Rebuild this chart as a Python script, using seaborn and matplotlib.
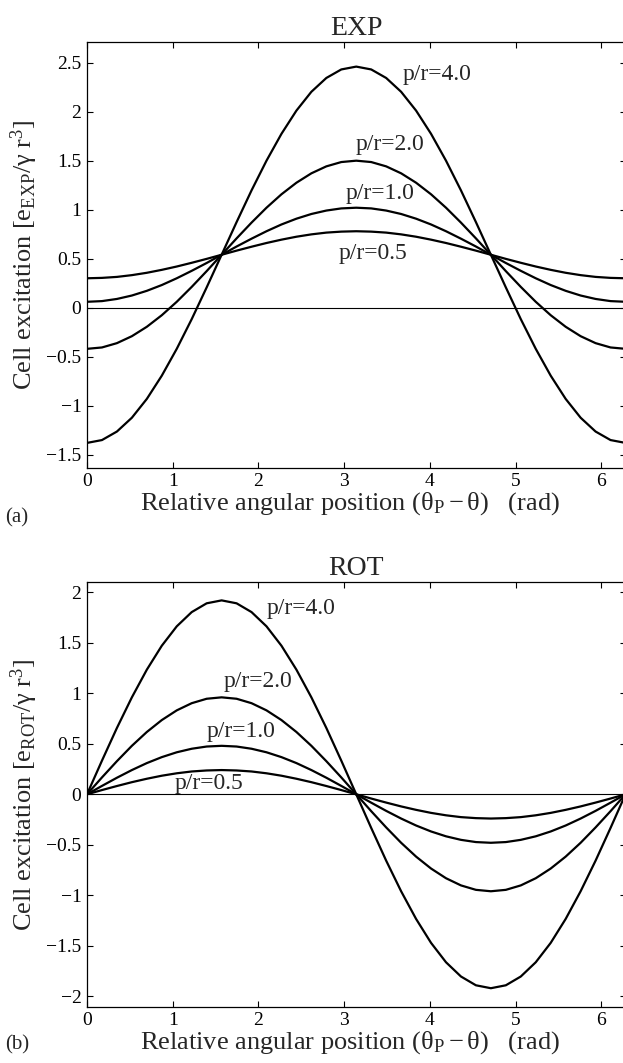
import numpy as np
import pandas as pd
import matplotlib
matplotlib.use("Agg")
import matplotlib.pyplot as plt
from matplotlib.ticker import FuncFormatter
import seaborn as sns

# ---- data (angle in rad) ----
theta = [0.0000, 0.1745, 0.3491, 0.5236, 0.6981, 0.8727, 1.0472, 1.2217, 1.3963,
         1.5708, 1.7453, 1.9199, 2.0944, 2.2689, 2.4435, 2.6180, 2.7925, 2.9671,
         3.1416, 3.3161, 3.4907, 3.6652, 3.8397, 4.0143, 4.1888, 4.3633, 4.5379,
         4.7124, 4.8869, 5.0615, 5.2360, 5.4105, 5.5851, 5.7596, 5.9341, 6.1087,
         6.2832]

ratios = ["p/r=0.5", "p/r=1.0", "p/r=2.0", "p/r=4.0"]

exp_05 = [0.300, 0.304, 0.314, 0.332, 0.356, 0.386, 0.420, 0.458, 0.498, 0.540,
          0.582, 0.622, 0.660, 0.694, 0.724, 0.748, 0.766, 0.776, 0.780,
          0.776, 0.766, 0.748, 0.724, 0.694, 0.660, 0.622, 0.582, 0.540,
          0.498, 0.458, 0.420, 0.386, 0.356, 0.332, 0.314, 0.304, 0.300]
exp_10 = [0.060, 0.067, 0.089, 0.124, 0.172, 0.231, 0.300, 0.376, 0.456, 0.540,
          0.624, 0.704, 0.780, 0.849, 0.908, 0.956, 0.991, 1.013, 1.020,
          1.013, 0.991, 0.956, 0.908, 0.849, 0.780, 0.704, 0.624, 0.540,
          0.456, 0.376, 0.300, 0.231, 0.172, 0.124, 0.089, 0.067, 0.060]
exp_20 = [-0.420, -0.406, -0.362, -0.291, -0.195, -0.077, 0.060, 0.212, 0.373, 0.540,
          0.707, 0.868, 1.020, 1.157, 1.275, 1.371, 1.442, 1.486, 1.500,
          1.486, 1.442, 1.371, 1.275, 1.157, 1.020, 0.868, 0.707, 0.540,
          0.373, 0.212, 0.060, -0.077, -0.195, -0.291, -0.362, -0.406, -0.420]
exp_40 = [-1.380, -1.351, -1.264, -1.123, -0.931, -0.694, -0.420, -0.117, 0.207, 0.540,
          0.873, 1.197, 1.500, 1.774, 2.011, 2.203, 2.344, 2.431, 2.460,
          2.431, 2.344, 2.203, 2.011, 1.774, 1.500, 1.197, 0.873, 0.540,
          0.207, -0.117, -0.420, -0.694, -0.931, -1.123, -1.264, -1.351, -1.380]

rot_05 = [0.000, 0.042, 0.082, 0.120, 0.154, 0.184, 0.208, 0.226, 0.236, 0.240,
          0.236, 0.226, 0.208, 0.184, 0.154, 0.120, 0.082, 0.042, 0.000,
          -0.042, -0.082, -0.120, -0.154, -0.184, -0.208, -0.226, -0.236, -0.240,
          -0.236, -0.226, -0.208, -0.184, -0.154, -0.120, -0.082, -0.042, 0.000]
rot_10 = [0.000, 0.083, 0.164, 0.240, 0.309, 0.368, 0.416, 0.451, 0.473, 0.480,
          0.473, 0.451, 0.416, 0.368, 0.309, 0.240, 0.164, 0.083, 0.000,
          -0.083, -0.164, -0.240, -0.309, -0.368, -0.416, -0.451, -0.473, -0.480,
          -0.473, -0.451, -0.416, -0.368, -0.309, -0.240, -0.164, -0.083, 0.000]
rot_20 = [0.000, 0.167, 0.328, 0.480, 0.617, 0.735, 0.831, 0.902, 0.946, 0.960,
          0.946, 0.902, 0.831, 0.735, 0.617, 0.480, 0.328, 0.167, 0.000,
          -0.167, -0.328, -0.480, -0.617, -0.735, -0.831, -0.902, -0.946, -0.960,
          -0.946, -0.902, -0.831, -0.735, -0.617, -0.480, -0.328, -0.167, 0.000]
rot_40 = [0.000, 0.333, 0.657, 0.960, 1.234, 1.471, 1.663, 1.804, 1.891, 1.920,
          1.891, 1.804, 1.663, 1.471, 1.234, 0.960, 0.657, 0.333, 0.000,
          -0.333, -0.657, -0.960, -1.234, -1.471, -1.663, -1.804, -1.891, -1.920,
          -1.891, -1.804, -1.663, -1.471, -1.234, -0.960, -0.657, -0.333, 0.000]

x_ticks = [0, 1, 2, 3, 4, 5, 6]
exp_yticks = [-1.5, -1, -0.5, 0, 0.5, 1, 1.5, 2, 2.5]
rot_yticks = [-2, -1.5, -1, -0.5, 0, 0.5, 1, 1.5, 2]

# curve-label anchor positions (data coords)
exp_label_pos = {"p/r=4.0": (3.68, 2.38), "p/r=2.0": (3.13, 1.66),
                 "p/r=1.0": (3.02, 1.17), "p/r=0.5": (2.94, 0.556)}
rot_label_pos = {"p/r=4.0": (2.10, 1.835), "p/r=2.0": (1.59, 1.12),
                 "p/r=1.0": (1.40, 0.62), "p/r=0.5": (1.02, 0.11)}

def long_df(series):
    frames = []
    for name, vals in zip(ratios, series):
        frames.append(pd.DataFrame({"theta": theta, "val": vals, "ratio": name}))
    return pd.concat(frames, ignore_index=True)

df_exp = long_df([exp_05, exp_10, exp_20, exp_40])
df_rot = long_df([rot_05, rot_10, rot_20, rot_40])

# ---- style ----
sns.set_style("ticks")
plt.rcParams["font.family"] = ["Liberation Serif", "DejaVu Serif"]
plt.rcParams["mathtext.fontset"] = "custom"
plt.rcParams["mathtext.rm"] = "Liberation Serif"
plt.rcParams["mathtext.it"] = "Liberation Serif:italic"
plt.rcParams["xtick.direction"] = "in"
plt.rcParams["ytick.direction"] = "in"
plt.rcParams["xtick.top"] = True
plt.rcParams["ytick.right"] = True
plt.rcParams["xtick.major.size"] = 4
plt.rcParams["ytick.major.size"] = 4
plt.rcParams["xtick.major.width"] = 0.8
plt.rcParams["ytick.major.width"] = 0.8
plt.rcParams["axes.linewidth"] = 0.9
plt.rcParams["axes.edgecolor"] = "black"
plt.rcParams["xtick.color"] = "black"
plt.rcParams["ytick.color"] = "black"

W, H = 623, 1063
fig = plt.figure(figsize=(W / 100, H / 100), dpi=100)

def px_axes(left, top, right, bottom):
    return fig.add_axes([left / W, 1 - bottom / H, (right - left) / W, (bottom - top) / H])

ax1 = px_axes(87, 42.3, 625.5, 467.7)
ax2 = px_axes(87, 582.0, 625.5, 1006.7)

fmt = FuncFormatter(lambda v, p: ("%g" % v).replace("-", "\u2212"))

def draw(ax, df, ylim, yticks, title, ylabel_sub, label_pos):
    ax.axhline(0, color="black", lw=0.8, zorder=1)
    palette = {r: "black" for r in ratios}
    sns.lineplot(data=df, x="theta", y="val", hue="ratio", palette=palette,
                 estimator=None, sort=False, lw=1.6, legend=False, ax=ax, zorder=2)
    ax.set_xlim(0, 2 * np.pi)
    ax.set_ylim(*ylim)
    ax.set_xticks(x_ticks)
    ax.set_yticks(yticks)
    ax.xaxis.set_major_formatter(fmt)
    ax.yaxis.set_major_formatter(fmt)
    ax.tick_params(labelsize=14, pad=4)
    for s in ax.spines.values():
        s.set_visible(True)
    ax.set_title(title, fontsize=20, pad=5)
    ax.set_xlabel(r"Relative angular position ($\mathrm{\theta_P} - \mathrm{\theta}$)   (rad)",
                  fontsize=19)
    ax.xaxis.set_label_coords(0.488, -0.052)
    ax.set_ylabel("Cell excitation [e$_{\\mathrm{%s}}$/\u03b3 r$^{3}$]" % ylabel_sub, fontsize=19)
    ax.yaxis.set_label_coords(-0.088, 0.5)
    for name, (lx, ly) in label_pos.items():
        ax.text(lx, ly, name, fontsize=17, ha="left", va="center")

draw(ax1, df_exp, (-1.633, 2.708), exp_yticks, "EXP", "EXP", exp_label_pos)
draw(ax2, df_rot, (-2.103, 2.102), rot_yticks, "ROT", "ROT", rot_label_pos)

fig.text(5 / W, 1 - 518 / H, "(a)", fontsize=15, ha="left", va="center")
fig.text(5 / W, 1 - 1045 / H, "(b)", fontsize=15, ha="left", va="center")

fig.savefig("out.png", dpi=100)
